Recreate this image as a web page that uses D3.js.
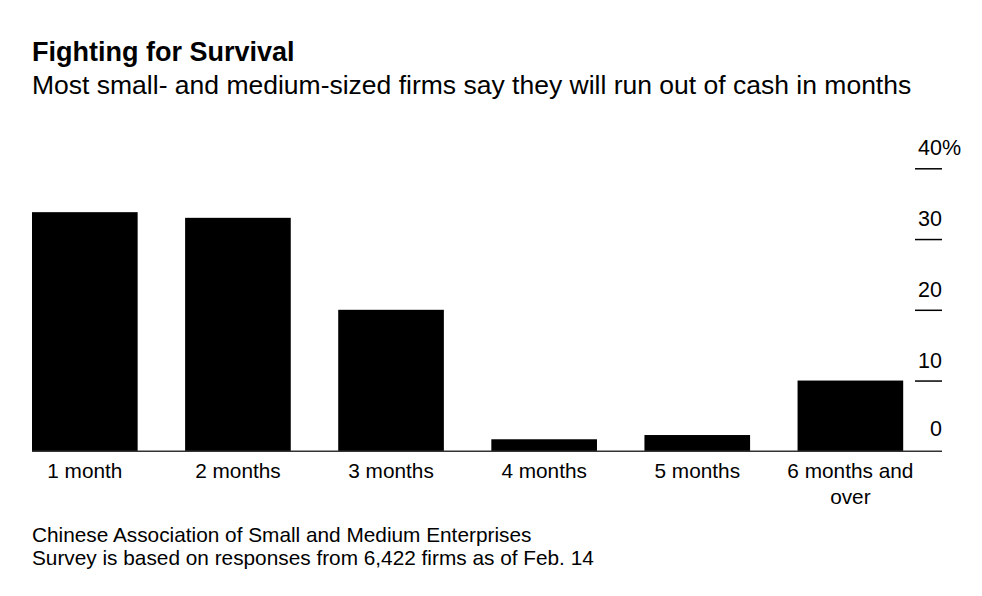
<!DOCTYPE html>
<html>
<head>
<meta charset="utf-8">
<script src="https://cdn.jsdelivr.net/npm/d3@7"></script>
<style>
  html, body { margin: 0; padding: 0; background: #fff; }
  svg { display: block; font-family: "Liberation Sans", Arial, sans-serif; }
</style>
</head>
<body>
<svg id="chart" width="982" height="596"></svg>
<script>
const categories = ["1 month", "2 months", "3 months", "4 months", "5 months", "6 months and|over"];
const values = [33.8, 33.0, 20.0, 1.7, 2.3, 10.0];
const yTicks = [0, 10, 20, 30, 40];
const tickLabels = ["0", "10", "20", "30", "40"];
const title = "Fighting for Survival";
const subtitle = "Most small- and medium-sized firms say they will run out of cash in months";
const sourceLines = [
  "Chinese Association of Small and Medium Enterprises",
  "Survey is based on responses from 6,422 firms as of Feb. 14"
];

const svg = d3.select("#chart");

const x = d3.scaleBand().domain(categories).range([32, 903.2]).paddingInner(0.31).paddingOuter(0);
const y = d3.scaleLinear().domain([0, 40]).range([451.3, 168.3]);

// title
svg.append("text").attr("x", 32).attr("y", 61)
  .attr("font-size", 27).attr("font-weight", "bold").attr("fill", "#000").text(title);
svg.append("text").attr("x", 32).attr("y", 93.5)
  .attr("font-size", 26.5).attr("fill", "#000").text(subtitle);

// bars
svg.append("g").selectAll("rect").data(values).join("rect")
  .attr("x", (d, i) => x(categories[i]))
  .attr("width", x.bandwidth())
  .attr("y", d => y(d))
  .attr("height", d => y(0) - y(d))
  .attr("fill", "#000");

// baseline
svg.append("line").attr("x1", 32).attr("x2", 942).attr("y1", y(0)).attr("y2", y(0))
  .attr("stroke", "#333").attr("stroke-width", 1.5);

// y axis on the right
const yAxis = d3.axisRight(y).tickValues(yTicks.filter(t => t > 0)).tickSize(27).tickFormat("");
const gy = svg.append("g").attr("transform", "translate(915,0)").call(yAxis);
gy.select(".domain").remove();
gy.selectAll(".tick line").attr("stroke", "#000").attr("stroke-width", 1.5);

svg.append("g").selectAll("text").data(yTicks).join("text")
  .attr("x", 942)
  .attr("y", d => y(d) - (d === 0 ? 15 : 13))
  .attr("text-anchor", "end")
  .attr("font-size", 21.5)
  .attr("fill", "#000")
  .text((d, i) => tickLabels[i]);
svg.append("text").attr("x", 942).attr("y", y(40) - 13)
  .attr("font-size", 21.5).attr("fill", "#000").text("%");

// x labels
const xl = svg.append("g").selectAll("text").data(categories).join("text")
  .attr("x", d => x(d) + x.bandwidth() / 2)
  .attr("y", 478)
  .attr("text-anchor", "middle")
  .attr("font-size", 20.8)
  .attr("fill", "#000");
xl.each(function(d) {
  const parts = d.split("|");
  d3.select(this).selectAll("tspan").data(parts).join("tspan")
    .attr("x", x(d) + x.bandwidth() / 2)
    .attr("dy", (p, j) => j === 0 ? 0 : 26)
    .text(p => p);
});

// source
svg.append("g").selectAll("text").data(sourceLines).join("text")
  .attr("x", 32)
  .attr("y", (d, i) => 541.5 + i * 23)
  .attr("font-size", 20.8)
  .attr("fill", "#000")
  .text(d => d);
</script>
</body>
</html>
